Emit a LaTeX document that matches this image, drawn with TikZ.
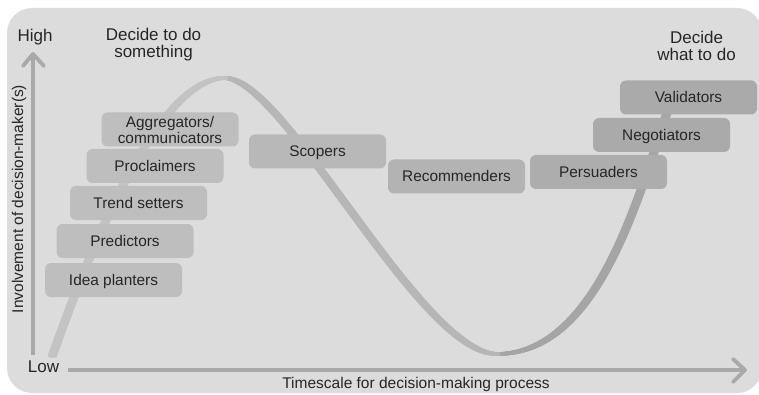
\documentclass[tikz,border=0pt]{standalone}
\usepackage{fontspec}
\setmainfont{Liberation Sans}
\definecolor{panel}{HTML}{DCDCDC}
\definecolor{ink}{HTML}{262626}
\definecolor{axiscol}{HTML}{A9A9A9}
\definecolor{waveA}{HTML}{C3C3C3}
\definecolor{waveB}{HTML}{B6B6B6}
\definecolor{waveC}{HTML}{A5A5A5}
\definecolor{roleA}{HTML}{BEBEBE}
\definecolor{roleB}{HTML}{B8B8B8}
\definecolor{roleC}{HTML}{B3B3B3}
\definecolor{roleD}{HTML}{ADADAD}
\definecolor{roleE}{HTML}{AAAAAA}
\begin{document}
\begin{tikzpicture}[x=1pt,y=-1pt,
  rolebase/.style={rounded corners=6pt, minimum width=137pt, minimum height=34pt,
    inner sep=0pt, text=ink, font=\fontsize{15.4}{16}\selectfont},
  role/.style={rolebase, text height=11pt, text depth=0pt},
  lbl/.style={text=ink, inner sep=0pt, font=\fontsize{17}{17}\selectfont},
  axistitle/.style={text=ink, inner sep=0pt, font=\fontsize{15.5}{16}\selectfont},
  axisline/.style={draw=axiscol, line width=3.4pt},
  chevron/.style={draw=axiscol, line width=3.8pt, line join=round, line cap=round},
  wave/.style={line width=3.2pt}
]
\useasboundingbox (0,0) rectangle (759,395);
\fill[white] (0,0) rectangle (759,395);

% rounded grey panel
\begin{scope}
  \clip (0,0) rectangle (759,395);
  \fill[panel, rounded corners=25pt] (7,8) rectangle (762,393);
\end{scope}

% decision wave, drawn as a ribbon with a horizontal nib
\foreach \s in {-3,-2.5,...,3} {
  \draw[wave, draw=waveA, xshift=\s pt] (52,357) .. controls (95,235) and (160,78) .. (225,78);
  \draw[wave, draw=waveB, xshift=\s pt] (225,78) .. controls (285,78) and (420,354) .. (497,354);
  \draw[wave, draw=waveC, xshift=\s pt] (497,354) .. controls (600,354) and (640,190) .. (672,98);
}

% role boxes
\node[role, fill=roleA] (idea)   at (113.5,280) {Idea planters};
\node[role, fill=roleA] (pred)   at (125,241)   {Predictors};
\node[role, fill=roleA] (trend)  at (138.5,203) {Trend setters};
\node[role, fill=roleA] (procl)  at (155,166)   {Proclaimers};
\node[rolebase, fill=roleA, align=center] (aggr) at (170,129.5) {Aggregators/\\communicators};
\node[role, fill=roleB] (scope)  at (317.5,151.5) {Scopers};
\node[role, fill=roleC] (recom)  at (456.5,176.5) {Recommenders};
\node[role, fill=roleD] (pers)   at (598.5,172)   {Persuaders};
\node[role, fill=roleE] (nego)   at (661.5,135)   {Negotiators};
\node[role, fill=roleE] (valid)  at (688.5,97.5)  {Validators};

% axes
\coordinate (ylow) at (33,355);
\coordinate (yhigh) at (33,54);
\coordinate (xlow) at (68,370);
\coordinate (xhigh) at (745,370);
\draw[axisline] (ylow) -- (yhigh);
\draw[chevron] ([shift={(-10,12)}]yhigh) -- (yhigh) -- ([shift={(11,12)}]yhigh);
\draw[axisline] (xlow) -- (xhigh);
\draw[chevron] ([shift={(-12,-11)}]xhigh) -- (xhigh) -- ([shift={(-12,12)}]xhigh);

% axis and phase labels
\node[lbl, anchor=base] (high) at (35,41.5) {High};
\node[lbl, anchor=base] (low) at (43.5,372) {Low};
\node[lbl, align=center] (start) at (153.5,44.8) {Decide to do\\something};
\node[lbl, align=center] (finish) at (696.5,46) {Decide\\what to do};
\node[axistitle, rotate=90] (ytitle) at (19,199) {Involvement of decision-maker(s)};
\node[axistitle, anchor=base] (xtitle) at (416,388.5) {Timescale for decision-making process};
\end{tikzpicture}
\end{document}
